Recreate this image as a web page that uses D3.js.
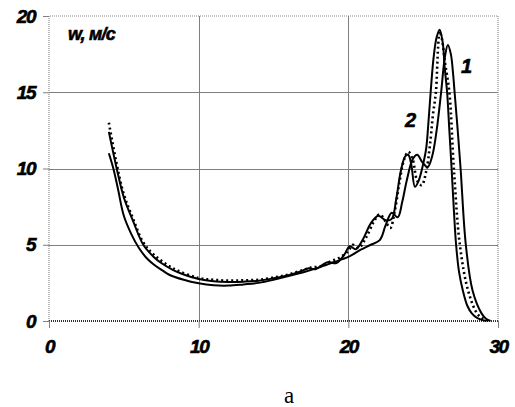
<!DOCTYPE html>
<html>
<head>
<meta charset="utf-8">
<script src="https://cdn.jsdelivr.net/npm/d3@7/dist/d3.min.js"></script>
<style>
  html, body { margin: 0; padding: 0; background: #fff; }
  svg { display: block; }
  .tick-label { font-family: Arial, "Liberation Sans", sans-serif; font-weight: bold; font-style: italic; stroke: #000; stroke-width: 0.6px; }
</style>
</head>
<body>
<svg id="chart" width="515" height="407"></svg>
<script>
// Velocity profiles w (m/s) along the coordinate
const xTicks = [0, 10, 20, 30];
const yTicks = [0, 5, 10, 15, 20];

// Curve 1 (solid, later peak)
const curve1X = [4.0, 4.3, 4.6, 5.0, 5.5, 6.0, 6.5, 7.0, 7.6, 8.0, 9.0, 10, 11, 12, 13, 14, 15, 16, 17, 18, 19, 20, 20.8, 21.5, 22.1, 22.5, 22.9, 23.3, 23.6, 23.9, 24.3, 24.6, 24.95, 25.3, 25.6, 25.9, 26.2, 26.45, 26.65, 26.85, 27.0, 27.1, 27.3, 27.5, 27.85, 28.3, 28.9, 29.2, 29.5];
const curve1Y = [11.0, 10.0, 8.7, 6.9, 5.7, 4.8, 4.15, 3.7, 3.3, 3.05, 2.7, 2.47, 2.34, 2.32, 2.4, 2.5, 2.7, 2.95, 3.2, 3.5, 3.85, 4.2, 4.66, 5.0, 5.3, 6.3, 7.1, 6.8, 7.8, 9.2, 10.6, 10.9, 10.4, 10.1, 10.8, 12.5, 15.0, 17.3, 18.1, 17.5, 16.2, 15.0, 12.6, 10.0, 5.0, 2.0, 0.5, 0.15, 0.0];

// Curve 2 (solid, earlier peak)
const curve2X = [4.0, 4.5, 5.0, 5.6, 6.3, 7.0, 7.5, 8.3, 9.0, 10, 11, 12, 13, 14, 15, 16, 16.8, 17.3, 17.8, 18.6, 19.2, 19.7, 20.1, 20.5, 21.0, 21.5, 22.0, 22.5, 22.9, 23.2, 23.5, 23.8, 24.0, 24.2, 24.45, 24.7, 25.0, 25.2, 25.35, 25.5, 25.7, 25.9, 26.1, 26.3, 26.45, 26.6, 26.75, 26.9, 27.05, 27.2, 27.4, 27.65, 27.95, 28.25, 28.6, 29.2];
const curve2Y = [12.4, 10.1, 8.1, 6.6, 5.0, 4.2, 3.8, 3.34, 3.05, 2.75, 2.6, 2.56, 2.58, 2.64, 2.8, 3.0, 3.25, 3.45, 3.4, 3.85, 3.8, 4.3, 4.9, 4.7, 5.4, 6.4, 6.9, 6.6, 6.7, 8.0, 9.8, 10.8, 10.9, 10.3, 8.8, 9.2, 10.3, 11.3, 13.0, 15.0, 17.3, 18.6, 19.1, 18.3, 16.5, 15.0, 12.5, 10.0, 7.3, 5.0, 3.2, 2.0, 1.0, 0.5, 0.2, 0.0];

// Dotted curve (accompanies curve 2)
const curve3X = [4.0, 4.5, 5.0, 5.6, 6.3, 7.0, 8.3, 10, 11, 12, 13, 14, 15, 16, 17, 17.5, 18.2, 18.8, 19.5, 20.0, 20.3, 20.7, 21.2, 21.7, 22.1, 22.5, 22.8, 23.1, 23.4, 23.7, 24.0, 24.3, 24.6, 24.9, 25.2, 25.45, 25.65, 25.85, 26.0, 26.1, 26.25, 26.45, 26.75, 27.05, 27.45, 28.0, 28.6, 29.0, 29.4];
const curve3Y = [13.0, 10.4, 8.3, 6.75, 5.15, 4.35, 3.45, 2.82, 2.7, 2.65, 2.67, 2.7, 2.85, 3.05, 3.35, 3.5, 3.6, 3.9, 4.2, 4.6, 5.0, 4.8, 5.5, 6.5, 7.0, 6.5, 6.1, 7.2, 9.0, 10.5, 11.1, 10.6, 9.2, 8.9, 9.8, 11.5, 13.5, 15.0, 18.0, 19.0, 18.5, 17.0, 15.0, 10.0, 5.0, 2.0, 0.5, 0.15, 0.0];

const svg = d3.select("#chart");
const x = d3.scaleLinear().domain([0, 30]).range([49, 498]);
const y = d3.scaleLinear().domain([0, 20]).range([321, 16]);

// grid
const grid = svg.append("g").attr("stroke", "#7f7f7f").attr("stroke-width", 1);
[10, 20].forEach(v => grid.append("line")
  .attr("x1", Math.round(x(v)) + 0.5).attr("x2", Math.round(x(v)) + 0.5)
  .attr("y1", y(20)).attr("y2", y(0)));
[5, 10, 15].forEach(v => grid.append("line")
  .attr("x1", x(0)).attr("x2", x(30))
  .attr("y1", Math.round(y(v)) + 0.5).attr("y2", Math.round(y(v)) + 0.5));

// plot frame (dotted)
const frame = svg.append("g").attr("fill", "none");
frame.append("path")
  .attr("d", `M${x(0)},${y(0)}V${y(20)}H${x(30)}V${y(0)}`)
  .attr("stroke", "#8a8a8a").attr("stroke-width", 1.2).attr("stroke-dasharray", "1,1");
frame.append("line")
  .attr("x1", x(0)).attr("x2", x(30)).attr("y1", y(0)).attr("y2", y(0))
  .attr("stroke", "#333").attr("stroke-width", 2).attr("stroke-dasharray", "1,1");

// axes
const yAxis = d3.axisLeft(y).tickValues(yTicks).tickSize(6).tickPadding(8).tickFormat(d3.format("d"));
const gy = svg.append("g").attr("transform", `translate(${x(0)},0)`).call(yAxis);
const xAxis = d3.axisBottom(x).tickValues(xTicks).tickSize(7).tickPadding(12).tickFormat(d3.format("d"));
const gx = svg.append("g").attr("transform", `translate(0,${y(0)})`).call(xAxis);
[gy, gx].forEach(g => {
  g.select(".domain").remove();
  g.selectAll(".tick line").attr("stroke", "#7f7f7f");
  g.selectAll(".tick text")
    .attr("class", "tick-label")
    .attr("fill", "#000")
    .style("font-size", "19px")
    .style("letter-spacing", "-1.5px");
});

// curves
const line = d3.line().x(d => x(d[0])).y(d => y(d[1])).curve(d3.curveCatmullRom.alpha(0.5));
const zip = (xs, ys) => xs.map((v, i) => [v, ys[i]]);

svg.append("path").datum(zip(curve1X, curve1Y))
  .attr("d", line).attr("fill", "none").attr("stroke", "#000").attr("stroke-width", 2);
svg.append("path").datum(zip(curve2X, curve2Y))
  .attr("d", line).attr("fill", "none").attr("stroke", "#000").attr("stroke-width", 2);
svg.append("path").datum(zip(curve3X, curve3Y))
  .attr("d", line).attr("fill", "none").attr("stroke", "#000").attr("stroke-width", 2.6)
  .attr("stroke-dasharray", "2,3");

// labels
const lab = (t, px, py, size) => svg.append("text")
  .attr("class", "tick-label").attr("x", px).attr("y", py)
  .style("font-size", size + "px").style("letter-spacing", "-0.8px").text(t);
lab("w, м/с", 68, 40, 18);
lab("1", 461, 73, 20);
lab("2", 405, 127, 20);

svg.append("text")
  .attr("x", 289).attr("y", 403).attr("text-anchor", "middle")
  .style("font-family", "'Liberation Serif', 'DejaVu Serif', serif")
  .style("font-size", "23px").text("a");
</script>
</body>
</html>
